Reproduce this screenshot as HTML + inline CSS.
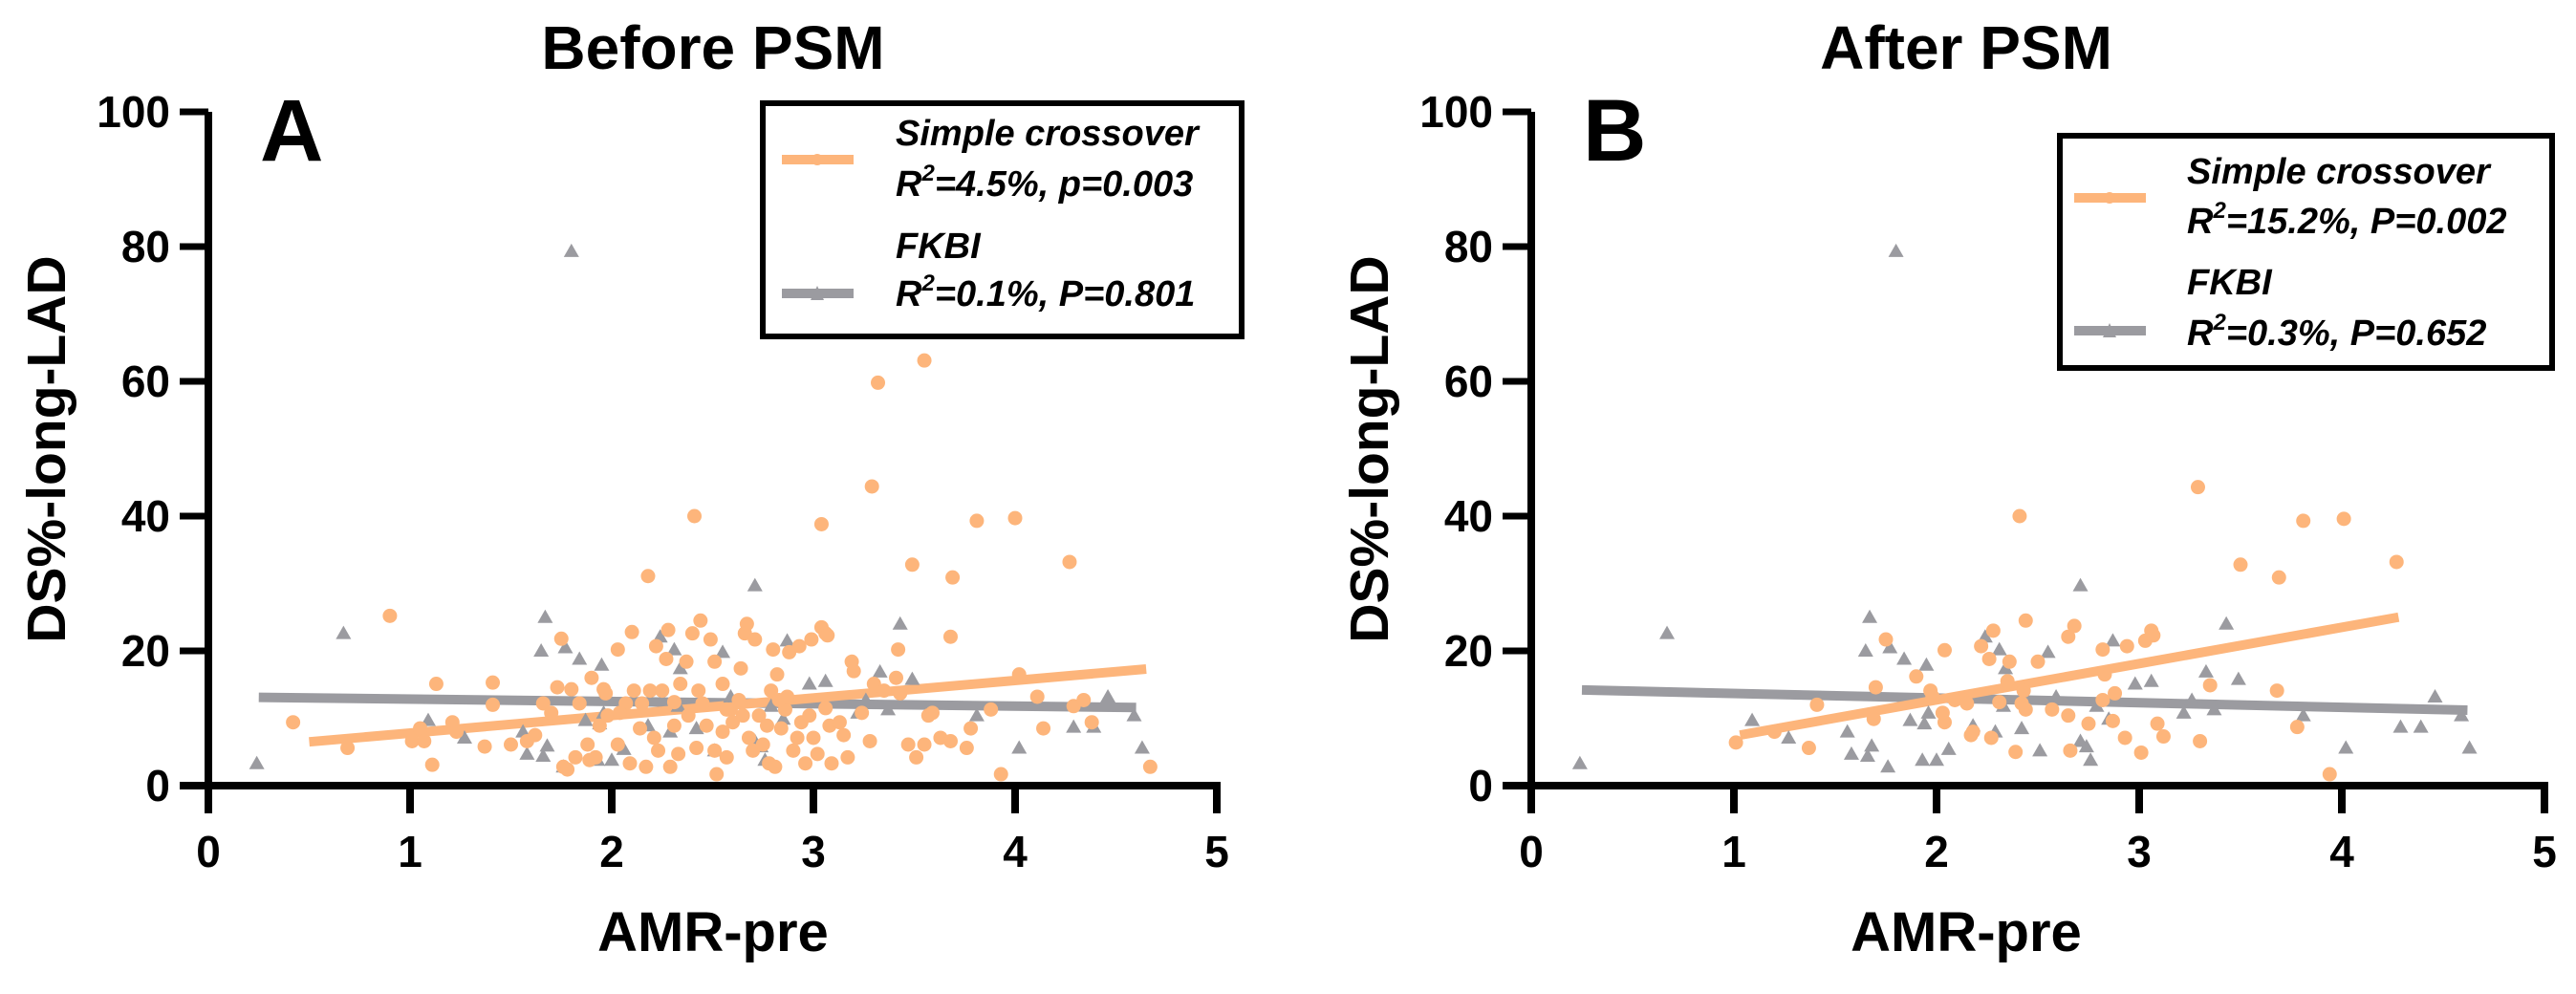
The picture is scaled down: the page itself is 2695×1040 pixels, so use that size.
<!DOCTYPE html>
<html><head><meta charset="utf-8"><style>
html,body{margin:0;padding:0;background:#fff;}
svg{display:block;font-family:"Liberation Sans",Arial,sans-serif;font-weight:bold;}
</style></head><body>
<svg id="chart" width="2695" height="1040" viewBox="0 0 2695 1040" xmlns="http://www.w3.org/2000/svg"></svg>
<script>
// ---- data ----
const xTicks = [0,1,2,3,4,5];
const yTicks = [0,20,40,60,80,100];
// Panel A (Before PSM) simple crossover points [AMR-pre, DS%]
const aOrangeX = [0.42,0.69,0.9,1.01,1.05,1.07,1.11,1.13,1.21,1.23,1.37,1.41,1.41,1.5,1.58,1.62,1.66,1.7,1.73,1.75,1.76,1.78,1.8,1.82,1.84,1.88,1.89,1.9,1.92,1.94,1.96,1.98,2.03,2.03,2.07,2.09,2.1,2.11,2.14,2.17,2.18,2.19,2.21,2.23,2.25,2.27,2.28,2.29,2.31,2.33,2.34,2.37,2.38,2.4,2.41,2.42,2.44,2.45,2.47,2.49,2.51,2.51,2.52,2.55,2.55,2.57,2.59,2.6,2.63,2.64,2.66,2.67,2.68,2.7,2.71,2.73,2.75,2.77,2.78,2.79,2.8,2.81,2.82,2.84,2.86,2.87,2.88,2.9,2.92,2.93,2.94,2.96,2.98,2.99,3.0,3.02,3.04,3.04,3.06,3.06,3.08,3.09,3.13,3.15,3.17,3.19,3.2,3.24,3.28,3.29,3.3,3.32,3.35,3.41,3.42,3.43,3.47,3.49,3.51,3.55,3.55,3.57,3.59,3.63,3.68,3.68,3.69,3.76,3.78,3.81,3.88,3.93,4.0,4.02,4.11,4.14,4.27,4.29,4.34,4.38,4.67,2.04,2.15,2.31,2.43,2.57,2.65,2.83,3.07,1.97,2.22];
const aOrangeY = [9.4,5.6,25.2,6.6,8.5,6.6,3.1,15.1,9.4,8,5.8,15.3,12,6.1,6.6,7.5,12.2,10.8,14.6,21.8,2.8,2.4,14.3,4.2,12.2,6.1,3.8,16,4.2,8.9,14.3,10.4,6.1,20.2,12.2,3.3,22.8,14.1,8.5,2.8,31.1,14.1,7.1,5.2,14.1,18.8,23.1,2.8,8.9,4.7,15.1,18.4,10.4,22.6,40,5.6,24.5,12.2,8.9,21.7,18.4,5.2,1.7,15.1,8,4.2,11.3,9.4,12.7,17.4,22.6,24,7.1,5.2,21.7,10.4,6.1,8.9,3.3,14.1,20.2,2.8,16.5,8.5,11.3,13.2,19.8,5.2,7.1,20.7,9.4,3.3,10.4,21.7,7.1,4.7,23.5,38.8,22.6,11.5,8.9,3.3,9.4,7.5,4.2,18.4,17,10.8,6.6,44.4,15.1,59.8,14.1,16,20.2,13.7,6.1,32.8,4.2,63.1,6.1,10.4,10.8,7.1,22.1,6.6,30.9,5.6,8.5,39.3,11.3,1.7,39.7,16.5,13.2,8.5,33.2,11.8,12.7,9.4,2.8,10.8,12.2,12.4,14.1,11.3,10.4,12.7,22.3,13.7,20.7];
// FKBI points (shared by both panels)
const grayX = [0.24,0.67,1.09,1.27,1.56,1.58,1.65,1.67,1.68,1.66,1.76,1.77,1.84,1.87,1.94,1.95,1.93,2,1.96,2.06,2.18,2.24,2.29,2.31,2.33,2.34,2.42,2.51,2.55,2.59,2.71,2.71,2.74,2.76,2.79,2.87,2.85,2.98,3.06,3.22,3.26,3.33,3.37,3.43,3.49,3.81,4.02,4.29,4.39,4.46,4.59,4.63,1.8];
const grayY = [3.3,22.6,9.7,7.1,8,4.7,20,25,5.9,4.4,2.8,20.5,18.8,9.7,9.2,17.9,3.8,3.8,10.8,5.4,8.9,22.1,8,20.2,11.8,17.4,8.5,5.2,19.8,13.2,29.7,6.6,5.8,3.8,11.8,21.5,9.9,15.1,15.5,10.8,12.7,16.9,11.3,24,15.8,10.4,5.6,8.7,8.7,13.2,10.4,5.6,79.3];
// Panel B (After PSM) simple crossover points
const bOrangeX = [1.01,1.2,1.37,1.41,1.69,1.7,1.75,1.9,1.97,1.98,2.04,2.04,2.03,2.09,2.15,2.17,2.18,2.22,2.26,2.28,2.27,2.31,2.35,2.36,2.39,2.41,2.42,2.44,2.43,2.44,2.5,2.57,2.65,2.65,2.68,2.66,2.75,2.82,2.83,2.82,2.87,2.88,2.93,2.94,3.01,3.03,3.06,3.07,3.09,3.12,3.29,3.3,3.35,3.5,3.68,3.69,3.78,3.81,3.94,4.01,4.27];
const bOrangeY = [6.4,8,5.6,12,9.9,14.6,21.7,16.2,14.1,13.2,20.1,9.4,10.8,12.7,12.2,7.5,8,20.7,18.8,23,7.1,12.4,15.5,18.4,5,40,12.2,24.5,14.1,11.3,18.4,11.3,10.4,22.1,23.7,5.2,9.2,20.2,16.5,12.7,9.6,13.7,7.1,20.7,4.9,21.5,23,22.3,9.2,7.3,44.3,6.6,14.9,32.8,14.1,30.9,8.7,39.3,1.7,39.6,33.2];
// regression fit endpoints [x0,x1] / [y0,y1]
const aOrangeFitX = [0.5,4.65], aOrangeFitY = [6.5,17.3];
const aGrayFitX = [0.25,4.6], aGrayFitY = [13.1,11.6];
const bOrangeFitX = [1.03,4.28], bOrangeFitY = [7.5,25];
const bGrayFitX = [0.25,4.62], bGrayFitY = [14.2,11.2];

const NS = 'http://www.w3.org/2000/svg';
const svg = document.getElementById('chart');
const ORANGE = '#FDB57B', GRAY = '#9B9BA0';
function mk(tag, attrs, parent){ const e=document.createElementNS(NS,tag); for(const k in attrs) e.setAttribute(k,attrs[k]); (parent||svg).appendChild(e); return e; }

function panel(cfg){
  const g = mk('g',{});
  
  
  const X = v => cfg.x0 + v*cfg.xu;
  const Y = v => 822 - v*7.05;
  // title
  const t = mk('text',{x:cfg.tx,y:72,'text-anchor':'middle','font-size':64},g); t.textContent=cfg.title;
   
  const l = mk('text',{x:cfg.x0+54,y:168,'font-size':92},g); l.textContent=cfg.letter;
   
  // axes
  const ax = mk('g',{},g);
   
  mk('line',{x1:X(0),y1:Y(100),x2:X(0),y2:851,stroke:'#000','stroke-width':8},ax);
  mk('line',{x1:X(0)-30,y1:Y(0),x2:X(5)+4,y2:Y(0),stroke:'#000','stroke-width':8},ax);
  yTicks.forEach(v=>{
    mk('line',{x1:X(0)-30,y1:Y(v),x2:X(0),y2:Y(v),stroke:'#000','stroke-width':7},ax);
    const tl = mk('text',{x:X(0)-40,y:Y(v)+16,'text-anchor':'end','font-size':46},ax); tl.textContent=v;
     
  });
  xTicks.forEach(v=>{
    mk('line',{x1:X(v),y1:Y(0),x2:X(v),y2:851,stroke:'#000','stroke-width':8},ax);
    const tl = mk('text',{x:X(v),y:907,'text-anchor':'middle','font-size':46},ax); tl.textContent=v;
     
  });
  const xt = mk('text',{x:cfg.tx,y:995,'text-anchor':'middle','font-size':58},g); xt.textContent='AMR-pre';
   
  const yx = cfg.x0-150;
  const yt = mk('text',{x:yx,y:470,'text-anchor':'middle','font-size':57,transform:`rotate(-90 ${yx} 470)`},g); yt.textContent='DS%-long-LAD';
   
  // fits
  const fg = mk('line',{x1:X(cfg.gfx[0]),y1:Y(cfg.gfy[0]),x2:X(cfg.gfx[1]),y2:Y(cfg.gfy[1]),stroke:GRAY,'stroke-width':10},g);
   
  const fo = mk('line',{x1:X(cfg.ofx[0]),y1:Y(cfg.ofy[0]),x2:X(cfg.ofx[1]),y2:Y(cfg.ofy[1]),stroke:ORANGE,'stroke-width':10},g);
   
  // points
  cfg.gx.forEach((v,i)=>{
    const cx=X(v), cy=Y(cfg.gy[i]);
    const p = mk('polygon',{points:`${cx},${cy-8} ${cx-8},${cy+6} ${cx+8},${cy+6}`,fill:GRAY},g);
     
  });
  cfg.ox.forEach((v,i)=>{
    const c = mk('circle',{cx:X(v),cy:Y(cfg.oy[i]),r:7.5,fill:ORANGE},g);
     
  });
  // legend
  const L = cfg.leg;
  const lg = mk('g',{},g);
   
  mk('rect',{x:L.x,y:L.y,width:L.w,height:L.h,fill:'#fff',stroke:'#000','stroke-width':6},lg);
  mk('line',{x1:L.lx,y1:L.ly1,x2:L.lx+75,y2:L.ly1,stroke:ORANGE,'stroke-width':10},lg);
  mk('circle',{cx:L.lx+37,cy:L.ly1,r:6,fill:ORANGE},lg);
  mk('line',{x1:L.lx,y1:L.ly2,x2:L.lx+75,y2:L.ly2,stroke:GRAY,'stroke-width':10},lg);
  mk('polygon',{points:`${L.lx+37},${L.ly2-8} ${L.lx+30},${L.ly2+7} ${L.lx+44},${L.ly2+7}`,fill:GRAY},lg);
  const lines = [['Simple crossover',null],[L.r1,true],['FKBI',null],[L.r2,true]];
  lines.forEach((ln,i)=>{
    const tx = mk('text',{x:L.tx,y:L.b[i],'font-size':38,'font-style':'italic'},lg);
     
    if(ln[1]){
      const a=mk('tspan',{},tx); a.textContent='R';
      const s=mk('tspan',{'font-size':24,dy:-16},tx); s.textContent='2';
      const b=mk('tspan',{dy:16},tx); b.textContent=ln[0];
    } else tx.textContent=ln[0];
  });
}

panel({name:'panel-a-before-psm',title:'Before PSM',letter:'A',x0:218,xu:211,tx:746,
  ox:aOrangeX,oy:aOrangeY,gx:grayX,gy:grayY,ofx:aOrangeFitX,ofy:aOrangeFitY,gfx:aGrayFitX,gfy:aGrayFitY,
  leg:{x:798,y:108,w:501,h:244,lx:818,ly1:167,ly2:307,tx:937,b:[152,205,270,320],r1:'=4.5%, p=0.003',r2:'=0.1%, P=0.801'}});
panel({name:'panel-b-after-psm',title:'After PSM',letter:'B',x0:1602,xu:212,tx:2057,
  ox:bOrangeX,oy:bOrangeY,gx:grayX,gy:grayY,ofx:bOrangeFitX,ofy:bOrangeFitY,gfx:bGrayFitX,gfy:bGrayFitY,
  leg:{x:2155,y:142,w:515,h:243,lx:2170,ly1:207,ly2:346,tx:2288,b:[192,244,308,361],r1:'=15.2%, P=0.002',r2:'=0.3%, P=0.652'}});
</script>
</body></html>
